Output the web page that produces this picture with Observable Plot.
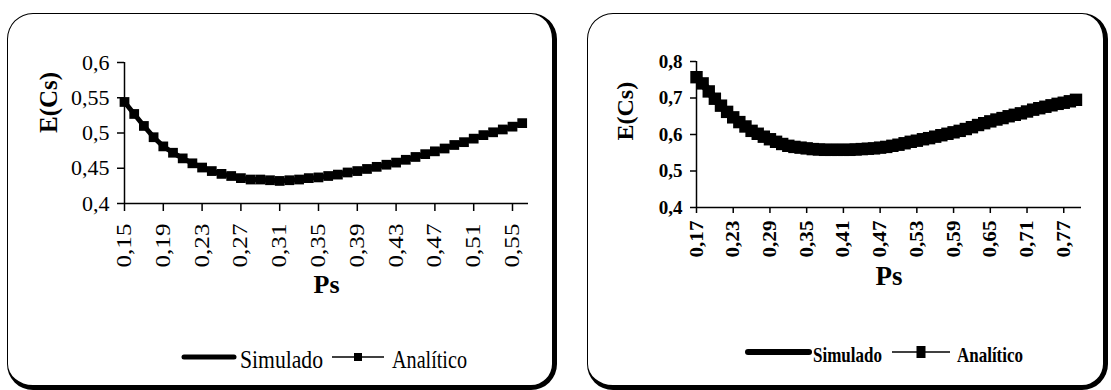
<!DOCTYPE html>
<html>
<head>
<meta charset="utf-8">
<script src="https://cdn.jsdelivr.net/npm/d3@7"></script>
<script src="https://cdn.jsdelivr.net/npm/@observablehq/plot@0.6"></script>
<style>
  html, body { margin: 0; padding: 0; background: #fff; }
  body { width: 1111px; height: 390px; position: relative; overflow: hidden; font-family: "Liberation Serif", "Times New Roman", serif; }
  .panel { position: absolute; box-sizing: border-box; border: 1.5px solid #000; border-right-width: 5px; border-bottom-width: 5px; border-radius: 26px; background: #fff; }
  .plotwrap { position: absolute; top: 0; }
  .legend { position: absolute; left: 0; top: 0; overflow: visible; }
</style>
</head>
<body>
<div class="panel" style="left:7px; top:13px; width:550px; height:377px;"></div>
<div class="panel" style="left:587px; top:13px; width:521px; height:377px;"></div>
<div id="leftPlot" class="plotwrap" style="left:0px;"></div>
<div id="rightPlot" class="plotwrap" style="left:560px;"></div>
<svg id="legend" class="legend" width="1111" height="390"></svg>
<script>
// ---------- Left chart data ----------
const leftPs = [0.15,0.16,0.17,0.18,0.19,0.20,0.21,0.22,0.23,0.24,0.25,0.26,0.27,0.28,0.29,0.30,0.31,0.32,0.33,0.34,0.35,0.36,0.37,0.38,0.39,0.40,0.41,0.42,0.43,0.44,0.45,0.46,0.47,0.48,0.49,0.50,0.51,0.52,0.53,0.54,0.55,0.56];
const leftAnalitico = [0.544,0.527,0.510,0.494,0.481,0.472,0.464,0.457,0.451,0.446,0.442,0.439,0.436,0.434,0.434,0.433,0.432,0.433,0.434,0.436,0.437,0.439,0.441,0.444,0.446,0.449,0.452,0.455,0.458,0.462,0.466,0.470,0.474,0.478,0.483,0.487,0.492,0.497,0.501,0.505,0.509,0.514];
const leftSimulado = [0.544,0.527,0.510,0.494,0.481,0.472,0.464,0.457,0.451,0.446,0.442,0.439,0.436,0.434,0.434,0.433,0.432,0.433,0.434,0.436,0.437,0.439,0.441,0.444,0.446,0.449,0.452,0.455,0.458,0.462,0.466,0.470,0.474,0.478,0.483,0.487,0.492,0.497,0.501,0.505,0.509,0.514];
const leftXTicks = [0.15,0.19,0.23,0.27,0.31,0.35,0.39,0.43,0.47,0.51,0.55];
const leftYTicks = [0.4,0.45,0.5,0.55,0.6];

// ---------- Right chart data ----------
const rightPs = [0.17,0.18,0.19,0.20,0.21,0.22,0.23,0.24,0.25,0.26,0.27,0.28,0.29,0.30,0.31,0.32,0.33,0.34,0.35,0.36,0.37,0.38,0.39,0.40,0.41,0.42,0.43,0.44,0.45,0.46,0.47,0.48,0.49,0.50,0.51,0.52,0.53,0.54,0.55,0.56,0.57,0.58,0.59,0.60,0.61,0.62,0.63,0.64,0.65,0.66,0.67,0.68,0.69,0.70,0.71,0.72,0.73,0.74,0.75,0.76,0.77,0.78,0.79];
const rightAnalitico = [0.757,0.740,0.718,0.698,0.679,0.662,0.647,0.634,0.622,0.610,0.602,0.594,0.587,0.580,0.574,0.569,0.566,0.564,0.562,0.560,0.559,0.558,0.558,0.558,0.558,0.558,0.559,0.560,0.561,0.562,0.564,0.566,0.569,0.572,0.576,0.580,0.583,0.587,0.590,0.594,0.598,0.602,0.606,0.610,0.615,0.620,0.626,0.631,0.636,0.641,0.645,0.650,0.654,0.658,0.663,0.668,0.672,0.676,0.680,0.684,0.687,0.691,0.695];
const rightSimulado = [0.757,0.740,0.718,0.698,0.679,0.662,0.647,0.634,0.622,0.610,0.602,0.594,0.587,0.580,0.574,0.569,0.566,0.564,0.562,0.560,0.559,0.558,0.558,0.558,0.558,0.558,0.559,0.560,0.561,0.562,0.564,0.566,0.569,0.572,0.576,0.580,0.583,0.587,0.590,0.594,0.598,0.602,0.606,0.610,0.615,0.620,0.626,0.631,0.636,0.641,0.645,0.650,0.654,0.658,0.663,0.668,0.672,0.676,0.680,0.684,0.687,0.691,0.695];
const rightXTicks = [0.17,0.23,0.29,0.35,0.41,0.47,0.53,0.59,0.65,0.71,0.77];
const rightYTicks = [0.4,0.5,0.6,0.7,0.8];

const seriesNames = ["Simulado", "Analítico"];
const xLabel = "Ps";
const yLabel = "E(Cs)";

const comma = d => String(+d.toFixed(2)).replace(".", ",");
const comma2 = d => d.toFixed(2).replace(".", ",");

function build(cfg) {
  const rows = cfg.ps.map((p, i) => ({ps: p, sim: cfg.sim[i], ana: cfg.ana[i]}));
  const svg = Plot.plot({
    width: cfg.width, height: 300,
    marginLeft: cfg.mL, marginRight: cfg.mR, marginTop: cfg.mT, marginBottom: cfg.mB,
    x: {domain: cfg.xDomain},
    y: {domain: cfg.yDomain},
    style: {fontFamily: "'Liberation Serif', 'Times New Roman', serif", color: "#000", background: "transparent", overflow: "visible"},
    marks: [
      Plot.axisY({ticks: cfg.yTicks, tickFormat: comma, tickSize: cfg.yTickSize, tickPadding: cfg.yTickPad, fontSize: cfg.yFont, fontWeight: cfg.bold ? "bold" : "normal", strokeWidth: 1.5, label: null}),
      Plot.axisX({ticks: cfg.xTicks, tickFormat: comma2, tickRotate: -90, tickSize: cfg.xTickSize, tickPadding: cfg.xTickPad, fontSize: cfg.xFont, fontWeight: cfg.bold ? "bold" : "normal", strokeWidth: 1.5, label: null}),
      Plot.ruleX([cfg.xDomain[0]], {strokeWidth: 1.5}),
      Plot.ruleY([cfg.yDomain[0]], {strokeWidth: 1.5}),
      Plot.line(rows, {x: "ps", y: "sim", stroke: "#000", strokeWidth: cfg.simWidth}),
      Plot.line(rows, {x: "ps", y: "ana", stroke: "#000", strokeWidth: 1.5}),
      Plot.dot(rows, {x: "ps", y: "ana", symbol: "square", r: cfg.r, fill: "#000", stroke: "none"}),
      Plot.text([yLabel], {text: d => d, frameAnchor: "left", dx: cfg.yLabelDx, dy: cfg.yLabelDy, rotate: -90, fontSize: cfg.yLabelFont, fontWeight: "bold", fill: "#000"}),
      Plot.text([xLabel], {text: d => d, frameAnchor: "bottom", dy: cfg.xLabelDy, fontSize: cfg.xLabelFont, fontWeight: "bold", fill: "#000"})
    ]
  });
  d3.select(svg).selectAll('g[aria-label="x-axis tick label"] text')
    .attr("textLength", cfg.xLabelLen).attr("lengthAdjust", "spacingAndGlyphs");
  document.getElementById(cfg.target).appendChild(svg);
}

build({
  target: "leftPlot", width: 560, mL: 124, mR: 32, mT: 62, mB: 97,
  ps: leftPs, sim: leftSimulado, ana: leftAnalitico,
  xDomain: [0.15, 0.5665], yDomain: [0.4, 0.6],
  xTicks: leftXTicks, yTicks: leftYTicks,
  yTickSize: 7, yTickPad: 8, yFont: 22,
  xTickSize: 8, xTickPad: 12, xFont: 20, xLabelLen: 44,
  bold: false, simWidth: 5, r: 5.5,
  yLabelDx: -76, yLabelDy: 0, yLabelFont: 25,
  xLabelDy: 89, xLabelFont: 26
});

build({
  target: "rightPlot", width: 551, mL: 136, mR: 30, mT: 61, mB: 93,
  ps: rightPs, sim: rightSimulado, ana: rightAnalitico,
  xDomain: [0.17, 0.799], yDomain: [0.4, 0.8],
  xTicks: rightXTicks, yTicks: rightYTicks,
  yTickSize: 6, yTickPad: 8, yFont: 19,
  xTickSize: 6, xTickPad: 7, xFont: 19, xLabelLen: 37,
  bold: true, simWidth: 8, r: 7,
  yLabelDx: -71, yLabelDy: 6, yLabelFont: 24,
  xLabelDy: 77, xLabelFont: 27
});

// ---------- Legends ----------
const lg = d3.select("#legend");
function legend(o) {
  lg.append("line").attr("x1", o.simX[0]).attr("x2", o.simX[1]).attr("y1", o.lineY).attr("y2", o.lineY)
    .attr("stroke", "#000").attr("stroke-width", o.simW).attr("stroke-linecap", "round");
  lg.append("text").attr("x", o.simTextX).attr("y", o.base).attr("font-size", o.font).attr("font-weight", o.weight)
    .attr("textLength", o.simLen).attr("lengthAdjust", "spacingAndGlyphs").text(seriesNames[0]);
  lg.append("line").attr("x1", o.anaX[0]).attr("x2", o.anaX[1]).attr("y1", o.lineY).attr("y2", o.lineY)
    .attr("stroke", "#000").attr("stroke-width", 1.5);
  lg.append("rect").attr("x", (o.anaX[0] + o.anaX[1]) / 2 - o.mw / 2).attr("y", o.lineY - o.mh / 2)
    .attr("width", o.mw).attr("height", o.mh).attr("fill", "#000");
  lg.append("text").attr("x", o.anaTextX).attr("y", o.base).attr("font-size", o.font).attr("font-weight", o.weight)
    .attr("textLength", o.anaLen).attr("lengthAdjust", "spacingAndGlyphs").text(seriesNames[1]);
}
lg.attr("font-family", "'Liberation Serif', 'Times New Roman', serif");
legend({simX: [184, 234], lineY: 357, simW: 5, simTextX: 240, base: 368, font: 26, weight: "normal", simLen: 83,
        anaX: [332, 384], mw: 8, mh: 8, anaTextX: 392, anaLen: 75});
legend({simX: [748, 809], lineY: 352, simW: 6, simTextX: 813, base: 362, font: 21, weight: "bold", simLen: 69,
        anaX: [892, 950], mw: 9, mh: 12, anaTextX: 957, anaLen: 66});
</script>
</body>
</html>
